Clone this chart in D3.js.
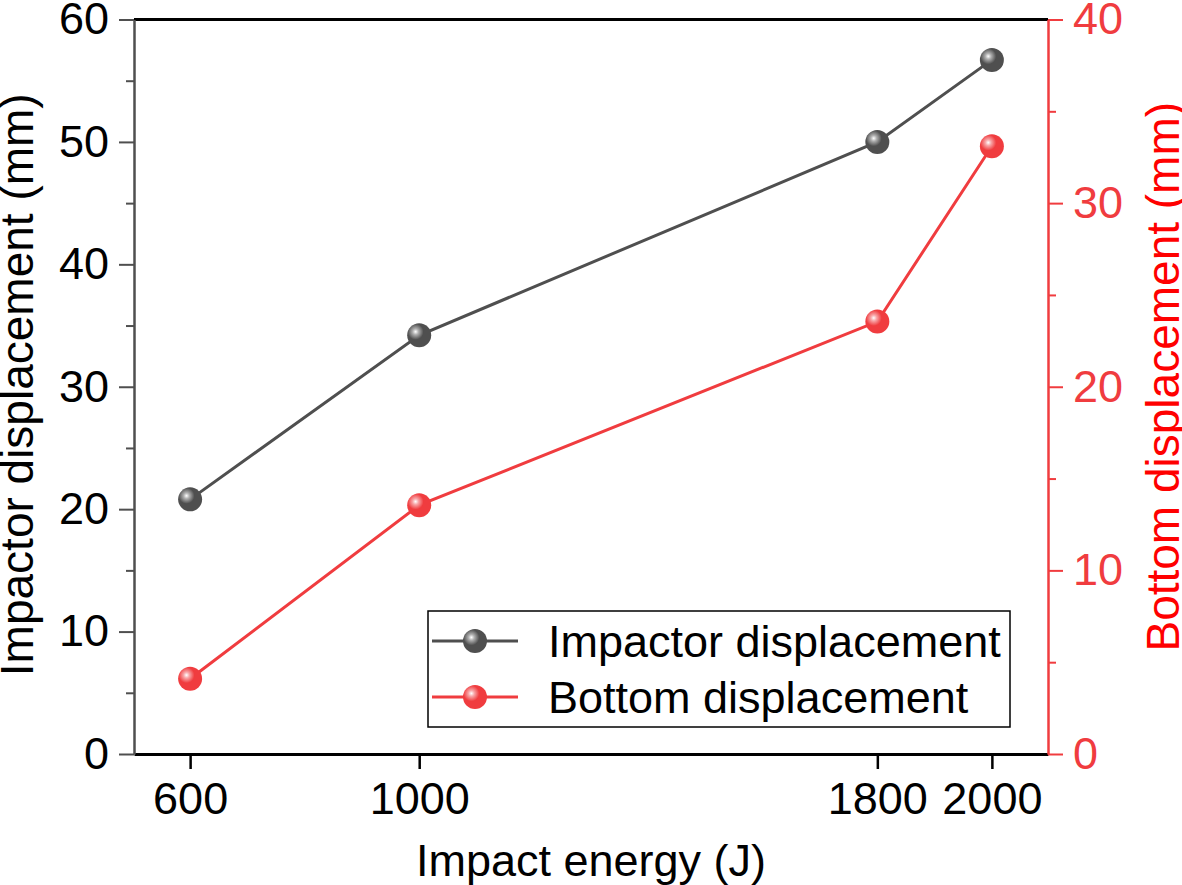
<!DOCTYPE html>
<html>
<head>
<meta charset="utf-8">
<script src="https://cdn.jsdelivr.net/npm/d3@7"></script>
<style>
  body { margin: 0; background: #fff; }
  text { font-family: "Liberation Sans", Arial, sans-serif; }
</style>
</head>
<body>
<div id="chart"></div>
<script>
// data
var energy = [600, 1000, 1800, 2000];
var impactorDisp = [20.8, 34.2, 50.0, 56.7];
var bottomDisp = [4.1, 13.55, 23.55, 33.1];
var leftTicks = [0, 10, 20, 30, 40, 50, 60];
var rightTicks = [0, 10, 20, 30, 40];
var seriesNames = ["Impactor displacement", "Bottom displacement"];

var W = 1182, H = 885;
var margin = {top: 19.5, right: 134, bottom: 131, left: 134};
var width = W - margin.left - margin.right;
var height = H - margin.top - margin.bottom;

var gray = "#4f4f4f", red = "#f03c3f";

var svg = d3.select("#chart").append("svg")
  .attr("width", W).attr("height", H);

var defs = svg.append("defs");
function ballGradient(id, base) {
  var g = defs.append("radialGradient").attr("id", id)
    .attr("cx", "35%").attr("cy", "35%").attr("r", "60%").attr("fx", "35%").attr("fy", "35%");
  g.append("stop").attr("offset", "0%").attr("stop-color", "#ffffff");
  g.append("stop").attr("offset", "20%").attr("stop-color", d3.interpolateRgb("#fff", base)(0.45));
  g.append("stop").attr("offset", "55%").attr("stop-color", base);
  g.append("stop").attr("offset", "100%").attr("stop-color", base);
}
ballGradient("ballGray", gray);
ballGradient("ballRed", red);

var g = svg.append("g").attr("transform", "translate(" + margin.left + "," + margin.top + ")");

var x = d3.scaleLinear().domain([502, 2098]).range([0, width]);
var yL = d3.scaleLinear().domain([0, 60]).range([height, 0]);
var yR = d3.scaleLinear().domain([0, 40]).range([height, 0]);

var fontSize = 45;
var fmt = d3.format("d");

// top frame line
g.append("line").attr("x1", 0).attr("x2", width).attr("y1", 0).attr("y2", 0)
  .attr("stroke", "#000").attr("stroke-width", 3);

// bottom axis
var xAxis = g.append("g").attr("transform", "translate(0," + height + ")")
  .call(d3.axisBottom(x).tickValues(energy).tickFormat(fmt).tickSize(15).tickSizeOuter(0).tickPadding(13));
xAxis.select(".domain").attr("stroke", "#000").attr("stroke-width", 3);
xAxis.selectAll(".tick line").attr("stroke", "#000").attr("stroke-width", 2.5);
xAxis.selectAll("text").attr("font-size", fontSize).attr("fill", "#000")
  .style("font-family", "'Liberation Sans', Arial, sans-serif");

// left axis with minor ticks
var minorL = d3.range(5, 60, 10);
g.append("g").call(d3.axisLeft(yL).tickValues(minorL).tickSize(8).tickFormat(""))
  .call(function(a) { a.select(".domain").remove(); a.selectAll("line").attr("stroke", gray).attr("stroke-width", 2); });
var yAxisL = g.append("g")
  .call(d3.axisLeft(yL).tickValues(leftTicks).tickFormat(fmt).tickSize(15).tickSizeOuter(0).tickPadding(10));
yAxisL.select(".domain").attr("stroke", gray).attr("stroke-width", 2.5);
yAxisL.selectAll(".tick line").attr("stroke", gray).attr("stroke-width", 2);
yAxisL.selectAll("text").attr("font-size", fontSize).attr("fill", "#000")
  .style("font-family", "'Liberation Sans', Arial, sans-serif");

// right axis with minor ticks
var minorR = d3.range(5, 40, 10);
g.append("g").attr("transform", "translate(" + width + ",0)")
  .call(d3.axisRight(yR).tickValues(minorR).tickSize(8).tickFormat(""))
  .call(function(a) { a.select(".domain").remove(); a.selectAll("line").attr("stroke", red).attr("stroke-width", 2); });
var yAxisR = g.append("g").attr("transform", "translate(" + width + ",0)")
  .call(d3.axisRight(yR).tickValues(rightTicks).tickFormat(fmt).tickSize(15).tickSizeOuter(0).tickPadding(10));
yAxisR.select(".domain").attr("stroke", red).attr("stroke-width", 2.5);
yAxisR.selectAll(".tick line").attr("stroke", red).attr("stroke-width", 2);
yAxisR.selectAll("text").attr("font-size", fontSize).attr("fill", red)
  .style("font-family", "'Liberation Sans', Arial, sans-serif");

// axis titles
g.append("text").attr("x", x(1300)).attr("y", height + 122)
  .attr("text-anchor", "middle").attr("font-size", 45).attr("fill", "#000")
  .text("Impact energy (J)");
g.append("text").attr("transform", "translate(" + (-101) + "," + (height / 2 - 2) + ") rotate(-90)")
  .attr("text-anchor", "middle").attr("font-size", 46).attr("fill", "#000")
  .text("Impactor displacement (mm)");
g.append("text").attr("transform", "translate(" + (width + 131) + "," + (height / 2 - 10) + ") rotate(-90)")
  .attr("text-anchor", "middle").attr("font-size", 46).attr("fill", "#ff0000")
  .text("Bottom displacement (mm)");

// series
var lineL = d3.line().x(function(d, i) { return x(energy[i]); }).y(function(d) { return yL(d); });
var lineR = d3.line().x(function(d, i) { return x(energy[i]); }).y(function(d) { return yR(d); });

g.append("path").datum(impactorDisp).attr("d", lineL)
  .attr("fill", "none").attr("stroke", gray).attr("stroke-width", 3);
g.append("path").datum(bottomDisp).attr("d", lineR)
  .attr("fill", "none").attr("stroke", red).attr("stroke-width", 3);

g.selectAll(".dotL").data(impactorDisp).enter().append("circle")
  .attr("cx", function(d, i) { return x(energy[i]); })
  .attr("cy", function(d) { return yL(d); })
  .attr("r", 12).attr("fill", "url(#ballGray)");
g.selectAll(".dotR").data(bottomDisp).enter().append("circle")
  .attr("cx", function(d, i) { return x(energy[i]); })
  .attr("cy", function(d) { return yR(d); })
  .attr("r", 12).attr("fill", "url(#ballRed)");

// legend
var leg = svg.append("g").attr("transform", "translate(428,611)");
leg.append("rect").attr("width", 582).attr("height", 116)
  .attr("fill", "#fff").attr("stroke", "#000").attr("stroke-width", 1.5);
var legColors = [gray, red], legFills = ["url(#ballGray)", "url(#ballRed)"];
seriesNames.forEach(function(name, i) {
  var yy = 30 + i * 56;
  leg.append("line").attr("x1", 4).attr("x2", 90).attr("y1", yy).attr("y2", yy)
    .attr("stroke", legColors[i]).attr("stroke-width", 3);
  leg.append("circle").attr("cx", 47).attr("cy", yy).attr("r", 12).attr("fill", legFills[i]);
  leg.append("text").attr("x", 120).attr("y", yy + 16).attr("font-size", 45).attr("fill", "#000")
    .text(name);
});
</script>
</body>
</html>
